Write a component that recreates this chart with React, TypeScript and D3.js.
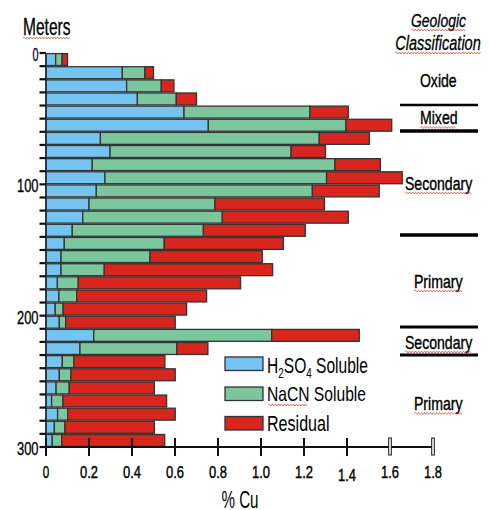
import React from "react";
import * as d3 from "d3";

const depthTops = [0, 10, 20, 30, 40, 50, 60, 70, 80, 90, 100, 110, 120, 130, 140, 150, 160, 170, 180, 190, 200, 210, 220, 230, 240, 250, 260, 270, 280, 290];
const h2so4 = [0.045, 0.355, 0.375, 0.425, 0.642, 0.755, 0.253, 0.298, 0.215, 0.274, 0.234, 0.2, 0.171, 0.122, 0.085, 0.07, 0.07, 0.053, 0.06, 0.043, 0.062, 0.222, 0.158, 0.076, 0.062, 0.047, 0.026, 0.054, 0.039, 0.029];
const nacn = [0.03, 0.105, 0.161, 0.181, 0.586, 0.64, 1.018, 0.842, 1.129, 1.031, 1.005, 0.586, 0.649, 0.61, 0.465, 0.414, 0.201, 0.097, 0.083, 0.037, 0.03, 0.828, 0.45, 0.054, 0.054, 0.061, 0.053, 0.047, 0.049, 0.044];
const residual = [0.025, 0.04, 0.059, 0.094, 0.178, 0.213, 0.233, 0.16, 0.211, 0.352, 0.311, 0.509, 0.586, 0.474, 0.554, 0.522, 0.783, 0.755, 0.604, 0.574, 0.509, 0.407, 0.145, 0.423, 0.485, 0.396, 0.482, 0.5, 0.416, 0.479];

const xTicks = [0, 0.2, 0.4, 0.6, 0.8, 1.0, 1.2, 1.4, 1.6, 1.8];
const xTickLabels = ["0", "0.2", "0.4", "0.6", "0.8", "1.0", "1.2", "1.4", "1.6", "1.8"];
const yLabelTicks = [0, 100, 200, 300];
const yMinorTicks = d3.range(0, 301, 10);

const seriesNames = ["H2SO4 Soluble", "NaCN Soluble", "Residual"];
const colors = ["#73c4f0", "#7cc69e", "#d8261e"];

const FONT = "'Liberation Sans', Arial, sans-serif";

function Wavy({ x1, x2, y }: { x1: number; x2: number; y: number }) {
  let d = `M${x1},${y}`;
  let up = true;
  for (let x = x1 + 1.5; x <= x2; x += 1.5) {
    d += ` L${x},${y + (up ? -1 : 1)}`;
    up = !up;
  }
  return <path d={d} fill="none" stroke="#e03030" strokeWidth={0.8} opacity={0.8} />;
}

function T({ x, y, size, len, anchor = "start", children, italic = false, heavy = 0 }: any) {
  return (
    <text
      x={x}
      y={y}
      fontSize={size}
      fontFamily={FONT}
      textAnchor={anchor}
      textLength={len}
      lengthAdjust="spacingAndGlyphs"
      fontStyle={italic ? "italic" : "normal"}
      fill="#000"
      stroke={heavy ? "#000" : "none"}
      strokeWidth={heavy}
    >
      {children}
    </text>
  );
}

export default function App() {
  const x = d3.scaleLinear().domain([0, 1.8]).range([46, 433]);
  const y = d3.scaleLinear().domain([0, 300]).range([53, 447]);

  const rows = depthTops.map((d, i) => {
    const vals = [h2so4[i], nacn[i], residual[i]];
    let c = 0;
    const segs = vals.map((v, k) => {
      const s = { x0: c, x1: c + v, k };
      c += v;
      return s;
    });
    return { d, segs };
  });

  const classLines = [
    { y: 105, w: 2.5 },
    { y: 131, w: 3.5 },
    { y: 235, w: 3.5 },
    { y: 327, w: 3 },
    { y: 355, w: 3 },
  ];

  return (
    <svg width={489} height={510} style={{ position: "absolute", left: 0, top: 0, background: "#fff" }}>
      <rect width={489} height={510} fill="#fff" />
      {rows.map((r) =>
        r.segs.map((s) => (
          <rect
            key={`${r.d}-${s.k}`}
            x={x(s.x0)}
            y={y(r.d) + 0.6}
            width={x(s.x1) - x(s.x0)}
            height={y(r.d + 10) - y(r.d) - 1.2}
            fill={colors[s.k]}
            stroke="#333"
            strokeWidth={1.3}
          />
        ))
      )}

      <line x1={46} x2={46} y1={y(0)} y2={y(300)} stroke="#333" strokeWidth={1.8} />
      {yMinorTicks.map((t) => (
        <line key={t} x1={39.5} x2={46} y1={y(t)} y2={y(t)} stroke="#111" strokeWidth={2.2} />
      ))}
      {yLabelTicks.map((t) => (
        <T key={t} x={38.5} y={y(t) + 8} size={19} len={t === 0 ? 6 : 21.5} anchor="end" heavy={0.35}>
          {String(t)}
        </T>
      ))}

      <line x1={x(0)} x2={x(1.8)} y1={447} y2={447} stroke="#111" strokeWidth={2} />
      {xTicks.map((t, i) =>
        i >= 8 ? (
          <rect key={t} x={x(t) - 1.3} y={438} width={2.6} height={17} fill="#fff" stroke="#111" strokeWidth={1} />
        ) : (
          <line key={t} x1={x(t)} x2={x(t)} y1={438} y2={456} stroke="#111" strokeWidth={2} />
        )
      )}
      {xTicks.map((t, i) => (
        <T key={t} x={x(t)} y={t === 1.4 ? 481 : 478} size={16} len={i === 0 ? 6.5 : 18} anchor="middle" heavy={0.4}>
          {xTickLabels[i]}
        </T>
      ))}
      <T x={240} y={508} size={23} len={37} anchor="middle">% Cu</T>

      <T x={23} y={35} size={23} len={47.5} heavy={0.3}>Meters</T>
      <Wavy x1={23} x2={70} y={38} />

      <T x={438.5} y={27} size={19} len={55} anchor="middle" italic heavy={0.3}>Geologic</T>
      <Wavy x1={411} x2={466} y={30} />
      <T x={438} y={50} size={20} len={85.5} anchor="middle" italic heavy={0.3}>Classification</T>
      <Wavy x1={395} x2={481} y={53} />
      <T x={438.3} y={87.3} size={19} len={36.7} anchor="middle" heavy={0.4}>Oxide</T>
      <T x={438.8} y={124.3} size={18.5} len={37.7} anchor="middle" heavy={0.4}>Mixed</T>
      <Wavy x1={420} x2={457} y={127.5} />
      <T x={438.6} y={190} size={18.5} len={67.3} anchor="middle" heavy={0.4}>Secondary</T>
      <Wavy x1={405} x2={471} y={193} />
      <T x={438.3} y={287.7} size={18.5} len={48.7} anchor="middle" heavy={0.4}>Primary</T>
      <Wavy x1={414} x2={462} y={291} />
      <T x={438.6} y={349.3} size={18.5} len={67.3} anchor="middle" heavy={0.4}>Secondary</T>
      <Wavy x1={405} x2={471} y={352} />
      <T x={438.3} y={410} size={18.5} len={48.7} anchor="middle" heavy={0.4}>Primary</T>
      <Wavy x1={414} x2={462} y={413.5} />
      {classLines.map((l) => (
        <line key={l.y} x1={400} x2={478} y1={l.y} y2={l.y} stroke="#000" strokeWidth={l.w} />
      ))}

      {seriesNames.map((n, i) => {
        const ly = [357, 387, 416.5][i];
        return (
          <rect key={n} x={225} y={ly} width={38} height={13.5} fill={colors[i]} stroke="#333" strokeWidth={1.3} />
        );
      })}
      <text x={267} y={373.3} fontSize={22} fontFamily={FONT} textLength={101} lengthAdjust="spacingAndGlyphs">
        H<tspan fontSize={14} dy={5}>2</tspan>
        <tspan dy={-5}>SO</tspan>
        <tspan fontSize={14} dy={5}>4</tspan>
        <tspan dy={-5}> Soluble</tspan>
      </text>
      <T x={267} y={400.5} size={21} len={99}>NaCN Soluble</T>
      <Wavy x1={268} x2={307} y={405} />
      <T x={267} y={430.7} size={22} len={62.5}>Residual</T>
    </svg>
  );
}
